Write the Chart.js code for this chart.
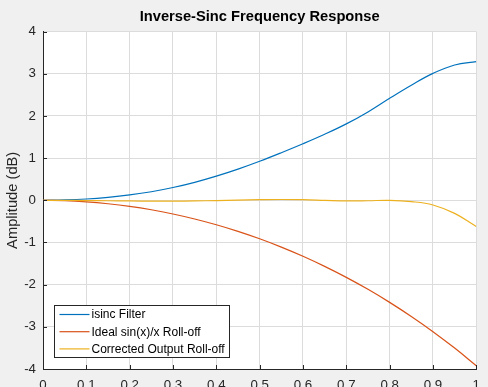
<!DOCTYPE html>
<html>
<head>
<meta charset="utf-8">
<script src="https://cdn.jsdelivr.net/npm/chart.js@4.4.0/dist/chart.umd.min.js"></script>
<style>
  html, body { margin: 0; padding: 0; background: #f0f0f0; overflow: hidden; }
  #wrap { position: relative; width: 488px; height: 400px; }
</style>
</head>
<body>
<div id="wrap"><canvas id="chart"></canvas></div>
<script>
// normalized frequency (x) and the three responses in dB
const freq = [0, 0.05, 0.1, 0.15, 0.2, 0.25, 0.3, 0.35, 0.4, 0.45, 0.5,
              0.55, 0.6, 0.65, 0.7, 0.75, 0.8, 0.85, 0.9, 0.95, 1];
const isinc = [0, 0.009, 0.031, 0.071, 0.128, 0.204, 0.304, 0.427, 0.574, 0.741, 0.927,
               1.129, 1.341, 1.566, 1.812, 2.096, 2.42, 2.73, 3.01, 3.21, 3.29];
const sincRoll = [0, -0.009, -0.036, -0.081, -0.143, -0.224, -0.324, -0.442, -0.579, -0.736, -0.912,
                  -1.109, -1.326, -1.566, -1.827, -2.111, -2.42, -2.754, -3.115, -3.504, -3.922];
const corrected = [0, 0, -0.005, -0.01, -0.015, -0.02, -0.02, -0.015, -0.005, 0.005, 0.015,
                   0.02, 0.015, 0, -0.015, -0.01, 0, -0.03, -0.11, -0.31, -0.62];

const seriesNames = ['isinc Filter', 'Ideal sin(x)/x Roll-off', 'Corrected Output Roll-off'];

const xTickValues = [0, 0.1, 0.2, 0.3, 0.4, 0.5, 0.6, 0.7, 0.8, 0.9, 1];
const xTickLabels = ['0', '0.1', '0.2', '0.3', '0.4', '0.5', '0.6', '0.7', '0.8', '0.9', '1'];
const yTickValues = [-4, -3, -2, -1, 0, 1, 2, 3, 4];
const yTickLabels = ['-4', '-3', '-2', '-1', '0', '1', '2', '3', '4'];

const FONT = '"Liberation Sans", Arial, Helvetica, sans-serif';
const AXIS = '#262626';

function pts(ys) {
    return freq.map((f, i) => ({ x: f, y: ys[i] }));
}

// white plot box
const plotBg = {
    id: 'plotBg',
    beforeDraw(chart) {
        const a = chart.chartArea;
        const ctx = chart.ctx;
        ctx.save();
        ctx.fillStyle = '#ffffff';
        ctx.fillRect(a.left, a.top, a.right - a.left, a.bottom - a.top);
        ctx.restore();
    }
};

// matlab style ticks pointing into the axes + legend box
const extras = {
    id: 'extras',
    afterDraw(chart) {
        const ctx = chart.ctx;
        const a = chart.chartArea;
        const xs = chart.scales.x, ys = chart.scales.y;
        ctx.save();
        ctx.strokeStyle = AXIS;
        ctx.lineWidth = 1;
        ctx.beginPath();
        xs.ticks.forEach(t => {
            const px = Math.round(xs.getPixelForValue(t.value)) + 0.5;
            ctx.moveTo(px, a.bottom);
            ctx.lineTo(px, a.bottom - 4);
        });
        ys.ticks.forEach(t => {
            const py = Math.round(ys.getPixelForValue(t.value)) + 0.5;
            ctx.moveTo(a.left, py);
            ctx.lineTo(a.left + 4, py);
        });
        ctx.stroke();

        // legend
        const bx = Math.round(a.left + 12) - 0.5, by = Math.round(a.bottom - 64) + 0.5;
        const bw = 175, bh = 52;
        ctx.fillStyle = '#ffffff';
        ctx.fillRect(bx, by, bw, bh);
        ctx.strokeStyle = AXIS;
        ctx.strokeRect(bx, by, bw, bh);
        ctx.font = '12px ' + FONT;
        ctx.textBaseline = 'middle';
        ctx.fillStyle = '#000000';
        chart.data.datasets.forEach((ds, i) => {
            const cy = by + 9 + i * 17.2;
            ctx.strokeStyle = ds.borderColor;
            ctx.lineWidth = 1.2;
            ctx.beginPath();
            ctx.moveTo(bx + 5, cy);
            ctx.lineTo(bx + 35, cy);
            ctx.stroke();
            ctx.fillText(ds.label, bx + 37, cy + 0.5);
        });
        ctx.restore();
    }
};

const ctx = document.getElementById('chart').getContext('2d');
const chart = new Chart(ctx, {
    type: 'line',
    data: {
        datasets: [
            { label: seriesNames[0], data: pts(isinc), borderColor: '#0072BD', order: 3 },
            { label: seriesNames[1], data: pts(sincRoll), borderColor: '#D95319', order: 2 },
            { label: seriesNames[2], data: pts(corrected), borderColor: '#EDB120', order: 1 }
        ]
    },
    options: {
        responsive: true,
        maintainAspectRatio: false,
        animation: false,
        layout: { padding: { left: 0, right: 11, top: 0, bottom: 0 } },
        elements: {
            line: { borderWidth: 1.2, tension: 0.4, fill: false },
            point: { radius: 0, hoverRadius: 0 }
        },
        plugins: {
            legend: { display: false },
            tooltip: { enabled: false },
            title: {
                display: true,
                text: 'Inverse-Sinc Frequency Response',
                fullSize: false,
                color: '#000000',
                font: { family: FONT, size: 14.7, weight: 'bold' },
                padding: { top: 8, bottom: 6 }
            }
        },
        scales: {
            x: {
                type: 'linear',
                min: 0,
                max: 1,
                afterBuildTicks: s => { s.ticks = xTickValues.map(v => ({ value: v })); },
                afterFit: s => { s.height = 31; },
                ticks: {
                    color: AXIS,
                    padding: 8,
                    maxRotation: 0,
                    font: { family: FONT, size: 13.3 },
                    callback: (v, i) => xTickLabels[i]
                },
                grid: { color: '#dcdcdc', drawTicks: false },
                border: { display: true, color: AXIS, width: 1 }
            },
            y: {
                min: -4,
                max: 4,
                afterBuildTicks: s => { s.ticks = yTickValues.map(v => ({ value: v })); },
                afterFit: s => { s.width = 43; },
                ticks: {
                    color: AXIS,
                    padding: 7,
                    font: { family: FONT, size: 13.3 },
                    callback: (v, i) => yTickLabels[i]
                },
                grid: { color: '#dcdcdc', drawTicks: false },
                border: { display: true, color: AXIS, width: 1 },
                title: {
                    display: true,
                    text: 'Amplitude (dB)',
                    color: AXIS,
                    font: { family: FONT, size: 14.7 },
                    padding: { top: 4, bottom: 0 }
                }
            }
        }
    },
    plugins: [plotBg, extras]
});
</script>
</body>
</html>
